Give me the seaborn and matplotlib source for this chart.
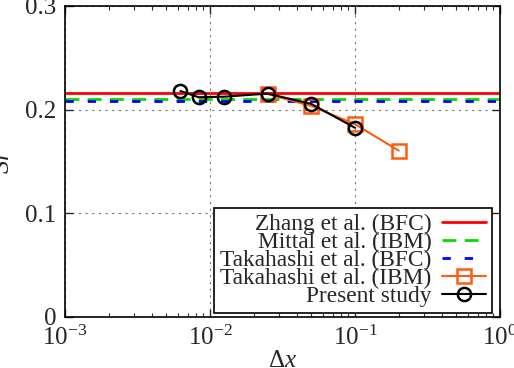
import numpy as np
import pandas as pd
import matplotlib
matplotlib.use("Agg")
import matplotlib.pyplot as plt
import seaborn as sns

# Data
zhang_bfc = 0.216
mittal_ibm = 0.210
takahashi_bfc = 0.208

taka_ibm_dx = [0.025, 0.05, 0.1, 0.2]
taka_ibm_sr = [0.215, 0.2035, 0.186, 0.1605]

present_dx = [0.00625, 0.00833, 0.0125, 0.025, 0.05, 0.1]
present_sr = [0.218, 0.212, 0.2125, 0.2155, 0.2055, 0.1825]

sns.set_style("ticks")
plt.rcParams['font.family'] = ['Liberation Serif', 'DejaVu Serif']
plt.rcParams['mathtext.fontset'] = 'custom'
plt.rcParams['mathtext.rm'] = 'Liberation Serif'
plt.rcParams['mathtext.it'] = 'Liberation Serif:italic'

fig = plt.figure(figsize=(5.14, 3.68), dpi=100)
ax = fig.add_axes([0.1265, 0.1386, 0.9728 - 0.1265, 0.9837 - 0.1386])

ax.axhline(zhang_bfc, color='#ff0000', lw=2, label='Zhang et al. (BFC)')
ax.axhline(mittal_ibm, color='#00e000', lw=2, ls=(0, (5, 3)), label='Mittal et al. (IBM)')
ax.axhline(takahashi_bfc, color='#0000ff', lw=2, ls=(0, (3, 5)), label='Takahashi et al. (BFC)')

df_t = pd.DataFrame({'dx': taka_ibm_dx, 'sr': taka_ibm_sr})
df_p = pd.DataFrame({'dx': present_dx, 'sr': present_sr})
sns.lineplot(data=df_t, x='dx', y='sr', ax=ax, color='#ff5a10', lw=1.5, marker='s',
             markersize=10.5, markerfacecolor='none', markeredgecolor='#ff5a10',
             markeredgewidth=1.8, label='Takahashi et al. (IBM)')
sns.lineplot(data=df_p, x='dx', y='sr', ax=ax, color='black', lw=1.5, marker='o',
             markersize=9.5, markerfacecolor='none', markeredgecolor='black',
             markeredgewidth=1.8, label='Present study')

ax.set_xscale('log')
ax.set_xlim(1e-3, 1)
ax.set_ylim(0, 0.3)
ax.set_yticks([0, 0.1, 0.2, 0.3])
ax.set_yticklabels(['0', '0.1', '0.2', '0.3'])
ax.grid(True, which='major', color='#777777', ls=(0, (2, 4)), lw=0.8)
ax.tick_params(which='both', direction='in', top=True, right=True, labelsize=18, pad=6)
ax.tick_params(which='major', length=6, width=1)
ax.tick_params(which='minor', length=3, width=0.8)
for s in ax.spines.values():
    s.set_linewidth(1.2)
    s.set_color('black')

ax.set_xlabel(r'$\Delta x$', fontsize=18, labelpad=0)
ax.set_ylabel(r'$Sr$', fontsize=19, labelpad=8)

leg = ax.legend(loc='lower right', bbox_to_anchor=(0.9816, 0.013), markerfirst=False,
                fontsize=16.8, frameon=True, fancybox=False, edgecolor='black',
                framealpha=1, labelspacing=-0.14, handlelength=1.9, borderpad=0.25,
                borderaxespad=0, handletextpad=0.45)
leg.get_frame().set_linewidth(1.2)
for t in leg.get_texts():
    t.set_ha('right')
leg._legend_box.align = 'right'

fig.savefig('out.png', dpi=100)
